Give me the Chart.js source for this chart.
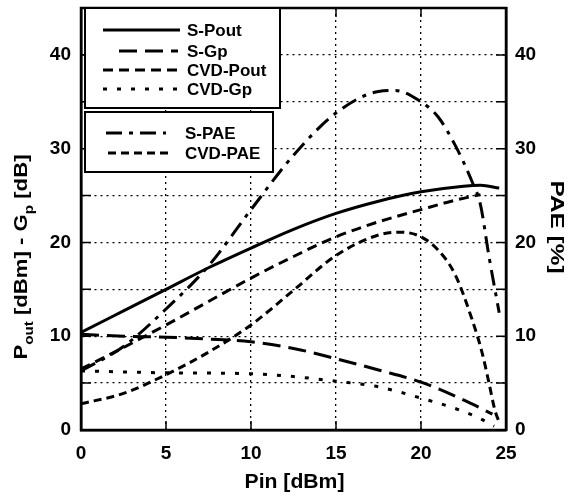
<!DOCTYPE html>
<html lang="en">
  <head>
    <meta charset="UTF-8" />
    <title>Pout, Gp and PAE vs Pin</title>
    <script src="https://cdn.jsdelivr.net/npm/chart.js"></script>
    <style>
      body { margin: 0; background: #fff; }
    </style>
  </head>
  <body>
    <canvas id="powerChart" width="570" height="501"></canvas>
    <script>
      // values (Pin in dBm)
      const sPoutPin = [0, 2.5, 5, 7.5, 10, 12.5, 15, 17.5, 20, 22.5, 23.5, 24.6];
      const sPout = [10.4, 12.7, 15.0, 17.3, 19.4, 21.4, 23.1, 24.4, 25.4, 26.0, 26.1, 25.8];

      const sGpPin = [0, 2.5, 5, 7.5, 10, 12.5, 15, 17.5, 20, 22.5, 24.2];
      const sGp = [10.2, 10.0, 9.9, 9.7, 9.4, 8.7, 7.6, 6.4, 5.1, 3.2, 1.7];

      const cvdPoutPin = [0, 2.5, 5, 7.5, 10, 12.5, 15, 17.5, 20, 22, 23.5];
      const cvdPout = [6.5, 8.8, 11.2, 13.7, 16.2, 18.5, 20.6, 22.2, 23.5, 24.5, 25.1];

      const cvdGpPin = [0, 5, 10, 12.5, 15, 17.5, 20, 22, 23.5, 24.3];
      const cvdGp = [6.3, 6.1, 6.0, 5.7, 5.2, 4.6, 3.4, 2.3, 1.2, 0.4];

      const sPaePin = [0, 2.5, 5, 7.5, 10, 12.5, 15, 17.5, 18.5, 20, 21, 22, 23, 23.5, 24, 24.6];
      const sPae = [6.3, 8.9, 12.9, 17.5, 23.5, 29.3, 33.8, 36.1, 36.2, 35.0, 33.4, 30.4, 26.5, 24.0, 18.5, 12.5];

      const cvdPaePin = [0, 2.5, 5, 7.5, 10, 12.5, 15, 17.5, 18.8, 20, 21, 22, 23, 23.6, 24, 24.35, 24.65];
      const cvdPae = [2.8, 3.9, 5.9, 8.3, 11.2, 14.9, 18.6, 20.8, 21.1, 20.6, 19.2, 16.6, 11.8, 8.2, 5.0, 2.1, 0.6];

      const FONT = '"Liberation Sans", Arial, sans-serif';

      function points(xs, ys) {
        return xs.map((x, i) => ({ x: x, y: ys[i] }));
      }

      const series = [
        { label: "S-Pout", pin: sPoutPin, values: sPout, dash: [], axis: "y" },
        { label: "S-Gp", pin: sGpPin, values: sGp, dash: [18, 8], axis: "y" },
        { label: "CVD-Pout", pin: cvdPoutPin, values: cvdPout, dash: [10, 6], axis: "y" },
        { label: "CVD-Gp", pin: cvdGpPin, values: cvdGp, dash: [4, 10], axis: "y" },
        { label: "S-PAE", pin: sPaePin, values: sPae, dash: [16, 7, 4, 7], axis: "y2" },
        { label: "CVD-PAE", pin: cvdPaePin, values: cvdPae, dash: [8, 5], axis: "y2" },
      ];

      const tickFont = { family: FONT, size: 19, weight: "bold" };

      function tensOnly(v) {
        return v % 10 === 0 && v < 45 ? v : "";
      }

      function fixWidth(w) {
        return (s) => {
          s.width = w;
          s.paddingTop = 0;
          s.paddingBottom = 0;
        };
      }

      // text pieces [string, size, baseline shift], stretched to a given length
      function drawStretched(ctx, pieces, cx, cy, angle, length) {
        let total = 0;
        pieces.forEach((p) => {
          ctx.font = "bold " + p[1] + "px " + FONT;
          p[3] = ctx.measureText(p[0]).width;
          total += p[3];
        });
        ctx.save();
        ctx.translate(cx, cy);
        ctx.rotate(angle);
        ctx.scale(length / total, 1);
        ctx.textAlign = "left";
        ctx.textBaseline = "alphabetic";
        let x = -total / 2;
        pieces.forEach((p) => {
          ctx.font = "bold " + p[1] + "px " + FONT;
          ctx.fillText(p[0], x, 7 + p[2]);
          x += p[3];
        });
        ctx.restore();
      }

      // legend boxes, ticks pointing inward, frame and titles
      const decorations = {
        id: "decorations",
        afterDraw(chart) {
          const { ctx, chartArea: a, scales } = chart;
          ctx.save();
          ctx.strokeStyle = "#000";
          ctx.fillStyle = "#000";

          ctx.lineWidth = 1.5;
          ctx.beginPath();
          scales.x.ticks.forEach((t) => {
            if (t.value <= 0 || t.value >= 25) return;
            const px = scales.x.getPixelForValue(t.value);
            ctx.moveTo(px, a.bottom);
            ctx.lineTo(px, a.bottom - 9);
            ctx.moveTo(px, a.top);
            ctx.lineTo(px, a.top + 9);
          });
          scales.y.ticks.forEach((t) => {
            if (t.value <= 0 || t.value >= 45) return;
            const py = scales.y.getPixelForValue(t.value);
            ctx.moveTo(a.left, py);
            ctx.lineTo(a.left + 10, py);
            ctx.moveTo(a.right, py);
            ctx.lineTo(a.right - 10, py);
          });
          ctx.stroke();

          ctx.lineWidth = 2.5;
          ctx.strokeRect(a.left, a.top, a.right - a.left, a.bottom - a.top);

          // legend
          function box(x, y, w, h) {
            ctx.fillStyle = "#fff";
            ctx.fillRect(x, y, w, h);
            ctx.lineWidth = 2;
            ctx.setLineDash([]);
            ctx.strokeRect(x, y, w, h);
          }
          function entry(s, y, x1, x2, tx) {
            ctx.lineWidth = 3;
            ctx.setLineDash(s.dash);
            ctx.beginPath();
            ctx.moveTo(x1, y);
            ctx.lineTo(x2, y);
            ctx.stroke();
            ctx.setLineDash([]);
            ctx.fillStyle = "#000";
            ctx.font = "bold 17px " + FONT;
            ctx.textAlign = "left";
            ctx.textBaseline = "middle";
            ctx.fillText(s.label, tx, y + 1);
          }
          box(85, 8, 195, 100);
          entry(series[0], 30, 103, 180, 187);
          entry(series[1], 51, 119, 178, 187);
          entry(series[2], 70, 103, 180, 187);
          entry(series[3], 89, 103, 177, 187);
          box(85, 112, 188, 60);
          entry(series[4], 133, 106, 166, 185);
          entry(series[5], 153, 108, 170, 185);

          // axis titles
          ctx.fillStyle = "#000";
          drawStretched(ctx, [["Pin [dBm]", 20, 0]], (a.left + a.right) / 2 + 1, 481, 0, 100);
          drawStretched(ctx, [["PAE [%]", 18, 0]], 558, 227, Math.PI / 2, 93);
          drawStretched(
            ctx,
            [
              ["P", 19, 0],
              ["out", 13, 6],
              [" [dBm] - G", 19, 0],
              ["p", 13, 6],
              [" [dB]", 19, 0],
            ],
            20,
            257,
            -Math.PI / 2,
            205
          );

          ctx.restore();
        },
      };

      const ctx = document.getElementById("powerChart").getContext("2d");
      new Chart(ctx, {
        type: "line",
        data: {
          datasets: series.map((s) => ({
            label: s.label,
            data: points(s.pin, s.values),
            yAxisID: s.axis,
            borderColor: "#000",
            borderWidth: 3,
            borderDash: s.dash,
            pointRadius: 0,
            fill: false,
            cubicInterpolationMode: "monotone",
          })),
        },
        options: {
          responsive: false,
          animation: false,
          layout: { padding: { top: 8, left: 0, right: 0, bottom: 0 } },
          plugins: {
            legend: { display: false },
            tooltip: { enabled: false },
          },
          scales: {
            x: {
              type: "linear",
              min: 0,
              max: 25,
              ticks: { stepSize: 5, color: "#000", font: tickFont, padding: 12, maxRotation: 0 },
              grid: { color: "#000", lineWidth: 1.3, drawTicks: false },
              border: { color: "#000", width: 2.5, dash: [2, 4] },
              afterFit: (s) => { s.height = 71; },
            },
            y: {
              position: "left",
              min: 0,
              max: 45,
              ticks: { stepSize: 5, color: "#000", font: tickFont, padding: 10, callback: tensOnly },
              grid: { color: "#000", lineWidth: 1.3, drawTicks: false },
              border: { color: "#000", width: 2.5, dash: [2, 4] },
              afterFit: fixWidth(81),
            },
            y2: {
              position: "right",
              min: 0,
              max: 45,
              ticks: { stepSize: 5, color: "#000", font: tickFont, padding: 9, callback: tensOnly },
              grid: { drawOnChartArea: false, drawTicks: false },
              border: { color: "#000", width: 2.5 },
              afterFit: fixWidth(64),
            },
          },
        },
        plugins: [decorations],
      });
    </script>
  </body>
</html>
